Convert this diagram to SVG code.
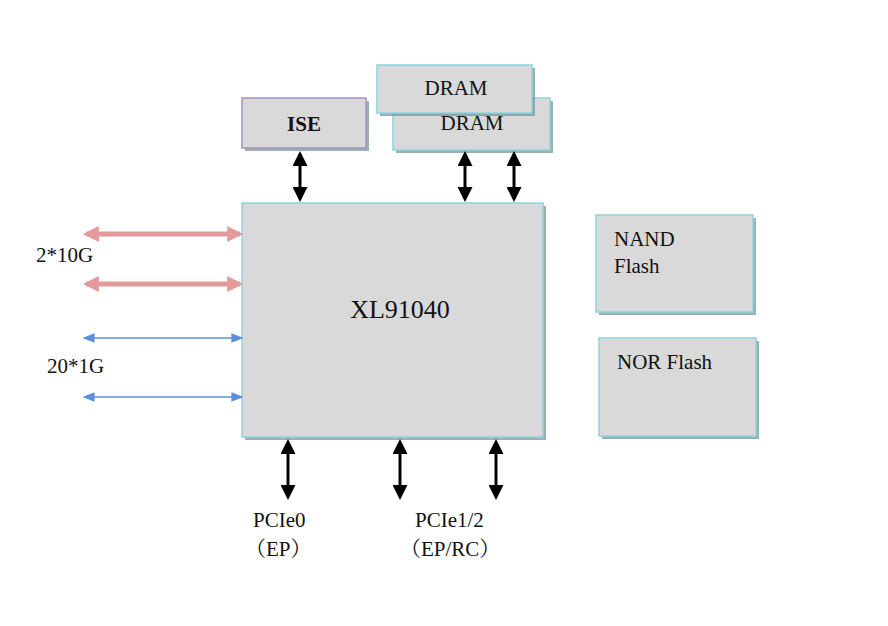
<svg xmlns="http://www.w3.org/2000/svg" width="888" height="626" viewBox="0 0 888 626">
<defs>
<style>
.box{fill:#d9d9d9;stroke:#8fd3de;stroke-width:1.5}
.sh{fill:#6f8f96;opacity:0.7}
text{font-family:"Liberation Serif","Times New Roman","DejaVu Serif","Noto Serif CJK SC","Noto Sans CJK SC",serif;fill:#111}
.k{stroke:#000;stroke-width:3}
.r{stroke:#e39a9a;stroke-width:5}
.b{stroke:#5b8fd8;stroke-width:1.5}
</style>
<marker id="ak" viewBox="0 0 10 10" refX="8" refY="5" markerWidth="5" markerHeight="5" orient="auto-start-reverse"><path d="M0,0L10,5L0,10z" fill="#000"/></marker>
<marker id="ar" viewBox="0 0 10 10" refX="8" refY="5" markerWidth="3.2" markerHeight="3.2" orient="auto-start-reverse"><path d="M0,0L10,5L0,10z" fill="#e39a9a"/></marker>
<marker id="ab" viewBox="0 0 10 10" refX="8" refY="5" markerWidth="8" markerHeight="8" orient="auto-start-reverse"><path d="M0,1L10,5L0,9z" fill="#5b8fd8"/></marker>
</defs>
<rect width="888" height="626" fill="#fff"/>
<g id="ise"><rect class="sh" x="245" y="101" width="124" height="50"/><rect class="box" x="242" y="98" width="124" height="50" style="stroke:#a98fc0"/><text x="304" y="131" font-size="21" font-weight="bold" text-anchor="middle">ISE</text></g>
<g id="dram2"><rect class="sh" x="396" y="101" width="157" height="52"/><rect class="box" x="393" y="98" width="157" height="52"/><text x="472" y="130" font-size="21" text-anchor="middle">DRAM</text></g>
<g id="dram1"><rect class="sh" x="380" y="68" width="155" height="48"/><rect class="box" x="377" y="65" width="155" height="48"/><text x="456" y="95" font-size="21" text-anchor="middle">DRAM</text></g>
<g id="main"><rect class="sh" x="245" y="206" width="301" height="234"/><rect class="box" x="242" y="203" width="301" height="234"/><text x="400" y="318" font-size="26" text-anchor="middle">XL91040</text></g>
<g id="nand"><rect class="sh" x="599" y="218" width="157" height="97"/><rect class="box" x="596" y="215" width="157" height="97"/><text x="614" y="246" font-size="21">NAND</text><text x="614" y="273" font-size="21">Flash</text></g>
<g id="nor"><rect class="sh" x="602" y="341" width="157" height="98"/><rect class="box" x="599" y="338" width="157" height="98"/><text x="617" y="369" font-size="21">NOR Flash</text></g>
<g id="connectors">
<line class="k" x1="300" y1="154" x2="300" y2="199" marker-start="url(#ak)" marker-end="url(#ak)"/>
<line class="k" x1="465" y1="154" x2="465" y2="199" marker-start="url(#ak)" marker-end="url(#ak)"/>
<line class="k" x1="514" y1="154" x2="514" y2="199" marker-start="url(#ak)" marker-end="url(#ak)"/>
<line class="k" x1="288" y1="442" x2="288" y2="497" marker-start="url(#ak)" marker-end="url(#ak)"/>
<line class="k" x1="400" y1="442" x2="400" y2="497" marker-start="url(#ak)" marker-end="url(#ak)"/>
<line class="k" x1="496" y1="442" x2="496" y2="497" marker-start="url(#ak)" marker-end="url(#ak)"/>
<line class="r" x1="86" y1="234" x2="240" y2="234" marker-start="url(#ar)" marker-end="url(#ar)"/>
<line class="r" x1="86" y1="284" x2="240" y2="284" marker-start="url(#ar)" marker-end="url(#ar)"/>
<line class="b" x1="85" y1="338" x2="241" y2="338" marker-start="url(#ab)" marker-end="url(#ab)"/>
<line class="b" x1="85" y1="397" x2="241" y2="397" marker-start="url(#ab)" marker-end="url(#ab)"/>
</g>
<text x="36" y="262" font-size="21">2*10G</text>
<text x="47" y="373" font-size="21">20*1G</text>
<text x="253" y="527" font-size="21">PCIe0</text>
<text x="245" y="556" font-size="21">（EP）</text>
<text x="415" y="527" font-size="21">PCIe1/2</text>
<text x="400" y="556" font-size="21">（EP/RC）</text>
</svg>
